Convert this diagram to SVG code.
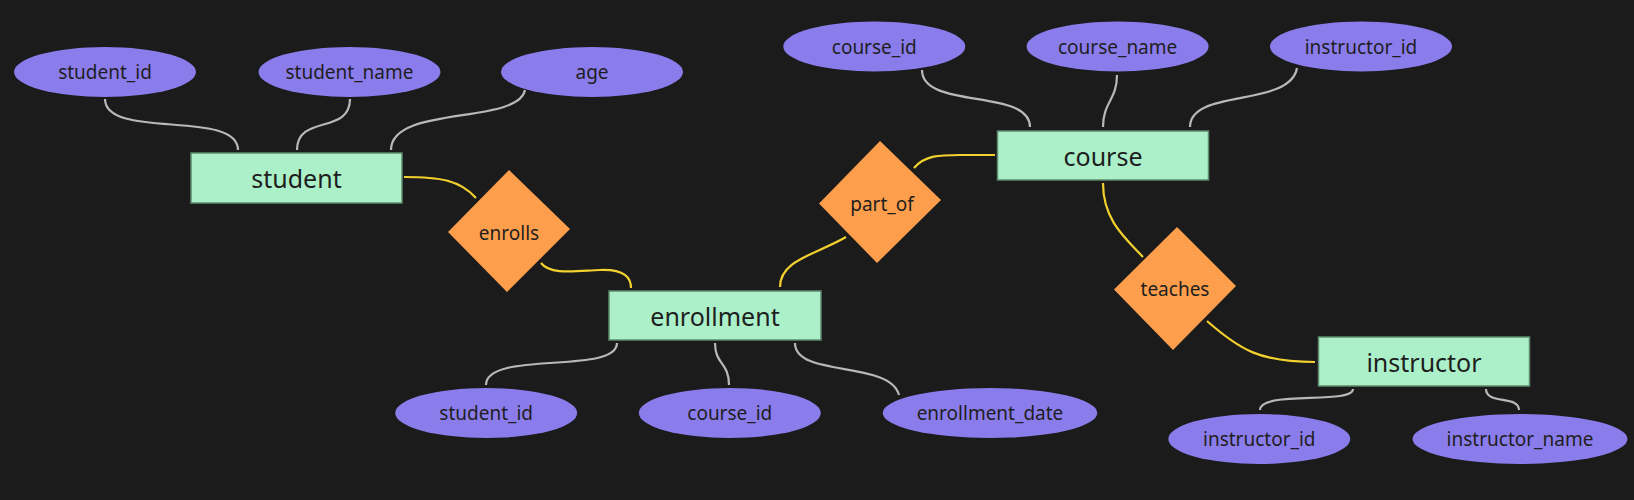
<svg xmlns="http://www.w3.org/2000/svg" width="1634" height="500" viewBox="0 0 1634 500">
<style>
.attr{fill:#8b7cec;}
.ent{fill:#abf0c9;stroke:#5e8a6e;stroke-width:1.5;}
.rel{fill:#fd9e4c;}
.t{font-family:"Noto Sans","Open Sans",sans-serif;fill:#1e1e1e;text-anchor:middle;dominant-baseline:central;}
.ta{font-size:19px;}
.te{font-size:25px;}
.tr{font-size:19px;}
.ga{fill:none;stroke:#b8b8b8;stroke-width:2.2;}
.gy{fill:none;stroke:#f2d12e;stroke-width:2.2;}
</style>
<rect width="1634" height="500" fill="#1b1b1b"/>
<g id="connectors">
<path class="ga" d="M105,99 C105,140 238,109 238,150"/>
<path class="ga" d="M350,99 C350,135 297,114 297,150"/>
<path class="ga" d="M525,90 C518,125 391,105 391,150"/>
<path class="ga" d="M922,70 C922,110 1030,88 1030,127"/>
<path class="ga" d="M1117,75 C1117,100 1103,102 1103,127"/>
<path class="ga" d="M1297,68 C1290,108 1190,88 1190,127"/>
<path class="ga" d="M617,343 C617,375 486,350 486,385"/>
<path class="ga" d="M715,343 C715,365 729,362 729,385"/>
<path class="ga" d="M795,343 C795,378 890,360 899,395"/>
<path class="ga" d="M1353,389 C1353,405 1260,390 1260,410"/>
<path class="ga" d="M1486,389 C1486,405 1519,395 1519,410"/>
<path class="gy" d="M404,177 C440,177 460,180 476,198"/>
<path class="gy" d="M541,263 C550,275 575,271 600,270 C625,269 631,278 631,288"/>
<path class="gy" d="M846,237 C815,255 780,260 780,287"/>
<path class="gy" d="M914,168 C925,155 940,155 960,155 L995,155"/>
<path class="gy" d="M1103,183 C1103,220 1125,238 1143,257"/>
<path class="gy" d="M1207,321 C1240,350 1260,362 1315,362"/>
</g>
<g id="student"><rect class="ent" x="191" y="153" width="211" height="50"/><text class="t te" x="296.5" y="178">student</text></g>
<g id="enrollment"><rect class="ent" x="609" y="291" width="212" height="49"/><text class="t te" x="715" y="315.5">enrollment</text></g>
<g id="course"><rect class="ent" x="997.5" y="131" width="211" height="49"/><text class="t te" x="1103" y="155.5">course</text></g>
<g id="instructor"><rect class="ent" x="1318.5" y="337" width="211" height="49"/><text class="t te" x="1424" y="361.5">instructor</text></g>
<g id="enrolls"><polygon class="rel" points="509,170 570,229 507,292 448,232"/><text class="t tr" x="509" y="233">enrolls</text></g>
<g id="part_of"><polygon class="rel" points="880,141 941,200 877,263 819,203.5"/><text class="t tr" x="882" y="204">part_of</text></g>
<g id="teaches"><polygon class="rel" points="1177,227 1236,286 1173,350 1114,289.5"/><text class="t tr" x="1175" y="289">teaches</text></g>
<g id="student_student_id"><ellipse class="attr" cx="105" cy="72" rx="91" ry="25"/><text class="t ta" x="105" y="72">student_id</text></g>
<g id="student_student_name"><ellipse class="attr" cx="349.5" cy="72" rx="91" ry="25"/><text class="t ta" x="349.5" y="72">student_name</text></g>
<g id="student_age"><ellipse class="attr" cx="592" cy="72" rx="91" ry="25"/><text class="t ta" x="592" y="72">age</text></g>
<g id="course_course_id"><ellipse class="attr" cx="874.3" cy="46.5" rx="91" ry="25"/><text class="t ta" x="874.3" y="46.5">course_id</text></g>
<g id="course_course_name"><ellipse class="attr" cx="1117.6" cy="46.5" rx="91" ry="25"/><text class="t ta" x="1117.6" y="46.5">course_name</text></g>
<g id="course_instructor_id"><ellipse class="attr" cx="1361" cy="46.5" rx="91" ry="25"/><text class="t ta" x="1361" y="46.5">instructor_id</text></g>
<g id="enrollment_student_id"><ellipse class="attr" cx="486.2" cy="413" rx="91" ry="25"/><text class="t ta" x="486.2" y="413">student_id</text></g>
<g id="enrollment_course_id"><ellipse class="attr" cx="729.8" cy="413" rx="91" ry="25"/><text class="t ta" x="729.8" y="413">course_id</text></g>
<g id="enrollment_enrollment_date"><ellipse class="attr" cx="990" cy="413" rx="107.3" ry="25"/><text class="t ta" x="990" y="413">enrollment_date</text></g>
<g id="instructor_instructor_id"><ellipse class="attr" cx="1259.3" cy="439" rx="91" ry="25"/><text class="t ta" x="1259.3" y="439">instructor_id</text></g>
<g id="instructor_instructor_name"><ellipse class="attr" cx="1520" cy="439" rx="107.5" ry="25"/><text class="t ta" x="1520" y="439">instructor_name</text></g>
</svg>
